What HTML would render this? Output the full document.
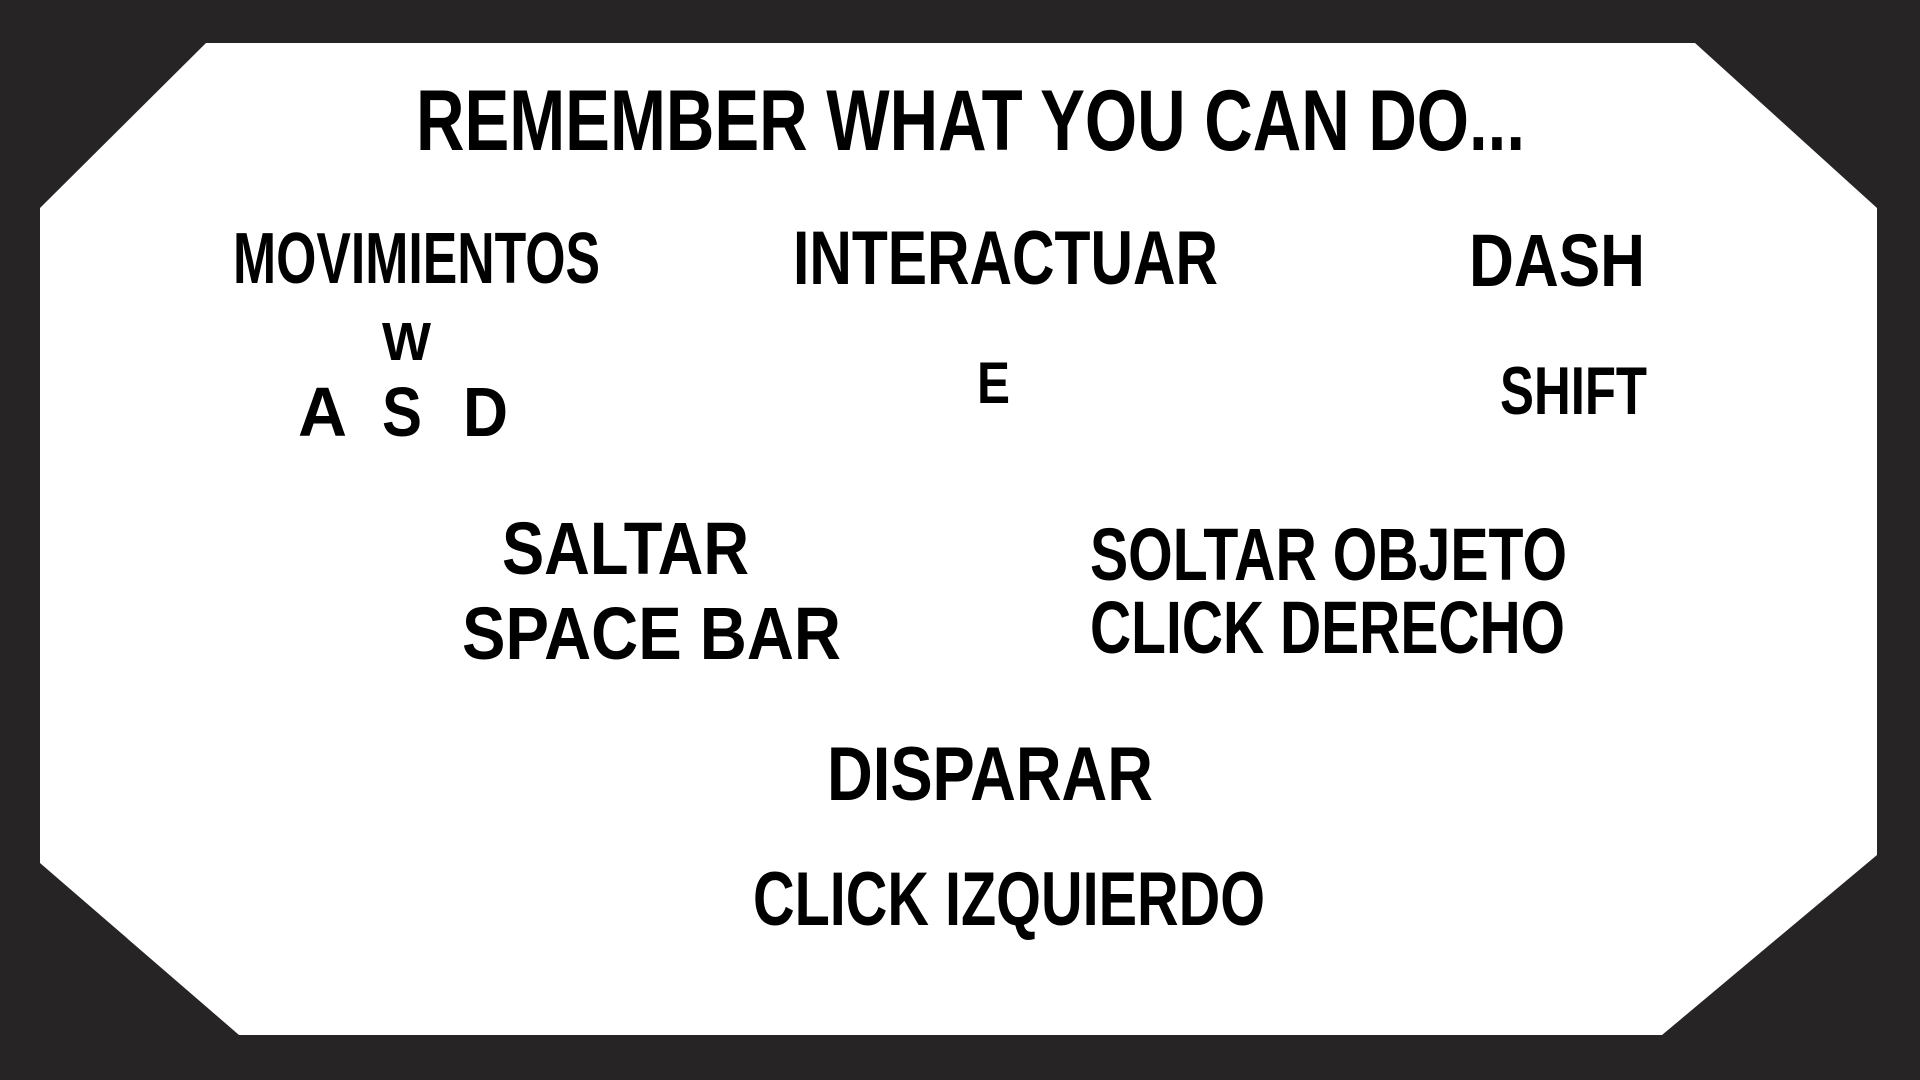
<!DOCTYPE html>
<html><head><meta charset="utf-8"><style>
html,body{margin:0;padding:0;background:#262425;width:1920px;height:1080px;overflow:hidden}
svg{display:block}
text{font-family:"Liberation Sans",sans-serif;font-weight:bold;fill:#000}
</style></head><body>
<svg width="1920" height="1080" viewBox="0 0 1920 1080">
<rect width="1920" height="1080" fill="#262425"/>
<polygon points="206,43 1695,43 1877,208 1877,855 1662,1035 239,1035 40,863 40,208" fill="#fff"/>
<text x="416" y="150" font-size="86" textLength="1109" lengthAdjust="spacingAndGlyphs">REMEMBER WHAT YOU CAN DO...</text>
<text x="233" y="283" font-size="72" textLength="367" lengthAdjust="spacingAndGlyphs">MOVIMIENTOS</text>
<text x="793" y="284" font-size="76" textLength="425" lengthAdjust="spacingAndGlyphs">INTERACTUAR</text>
<text x="1469" y="286" font-size="74" textLength="176" lengthAdjust="spacingAndGlyphs">DASH</text>
<text x="382" y="360" font-size="54" textLength="49" lengthAdjust="spacingAndGlyphs">W</text>
<text x="298" y="436" font-size="70" textLength="49" lengthAdjust="spacingAndGlyphs">A</text>
<text x="382" y="436" font-size="70" textLength="40" lengthAdjust="spacingAndGlyphs">S</text>
<text x="463" y="436" font-size="70" textLength="45" lengthAdjust="spacingAndGlyphs">D</text>
<text x="977" y="403" font-size="58" textLength="33" lengthAdjust="spacingAndGlyphs">E</text>
<text x="1500" y="414" font-size="68" textLength="147" lengthAdjust="spacingAndGlyphs">SHIFT</text>
<text x="502" y="574" font-size="74" textLength="247" lengthAdjust="spacingAndGlyphs">SALTAR</text>
<text x="462" y="659" font-size="74" textLength="379" lengthAdjust="spacingAndGlyphs">SPACE BAR</text>
<text x="1090" y="580" font-size="74" textLength="477" lengthAdjust="spacingAndGlyphs">SOLTAR OBJETO</text>
<text x="1090" y="653" font-size="74" textLength="475" lengthAdjust="spacingAndGlyphs">CLICK DERECHO</text>
<text x="827" y="800" font-size="76" textLength="326" lengthAdjust="spacingAndGlyphs">DISPARAR</text>
<text x="753" y="925" font-size="76" textLength="512" lengthAdjust="spacingAndGlyphs">CLICK IZQUIERDO</text>
</svg>
</body></html>
